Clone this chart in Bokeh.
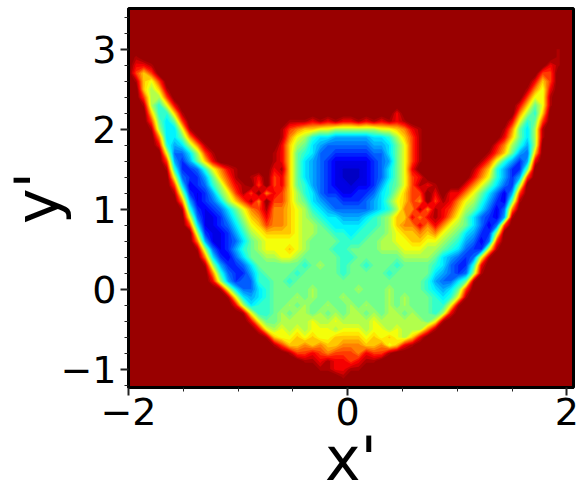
import numpy as np
from bokeh.plotting import figure
from bokeh.embed import file_html
from bokeh.resources import INLINE
from bokeh.models import FixedTicker

# density, hex digit per cell, 0 = empty, f = densest
x_start, x_step = -2.0, 0.07
y_top, y_step = 3.0, 0.1
density_rows = [
 "0000000000 0000000000 0000000000 0000000000 0000000000 000000100",
 "0100000000 0000000000 0000000000 0000000000 0000000000 000000100",
 "0221000000 0000000000 0000000000 0000000000 0000000000 000002100",
 "0353000000 0000000000 0000000000 0000000000 0000000000 000033000",
 "0156300000 0000000000 0000000000 0000000000 0000000000 000253000",
 "0057510000 0000000000 0000000000 0000000000 0000000000 001462000",
 "0037730000 0000000000 0000000000 0000000000 0000000000 003661000",
 "0017962000 0000000000 0000000000 0000000000 0000000000 025861000",
 "0005995100 0000000000 0000000000 0000020000 0000000000 047950000",
 "00038a8300 0000000000 0111212122 1212121000 0000000000 269830000",
 "00017aa610 0000000000 1345566777 7776654210 0000000001 48a710000",
 "00004aa841 0000000000 14679aabbb bbaa975310 0000000002 58a710000",
 "000029ba74 1000000000 2578abcccc ccbba86310 0000000024 79b700000",
 "000006cca7 3100000001 2589accddd ddcca86310 0000000135 8bc500000",
 "000003bdb8 5200000001 258abcdeee eedcb86310 0000001369 bdb200000",
 "0000019ddc 9642100002 158abcdeff fedca86200 000001359b dd8000000",
 "0000006cdd b853101203 258abcdeff fedca86320 000002469b db3000000",
 "0000003aed c974210303 2589bcdeef eedb986312 10002468ac d70000000",
 "00000017de db86313042 3579acddee ddca975330 2022468ace b30000000",
 "00000004be dca7531403 3578abccdd dcba865340 3124679bde 810000000",
 "000000019d edca864314 45679abccc ccba974414 123578acec 400000000",
 "000000006c eedb975424 456789aabb ba98755242 12468acdeb 100000000",
 "000000003a eedca86534 4567789aaa a998754424 24678acec3 000000000",
 "0000000007 deedb97655 556778899a 9988765545 4678abdd70 000000000",
 "0000000004 beedca8766 6667888899 9887766556 6789bcec30 000000000",
 "0000000001 7cedb98766 6567888998 8887776667 789acdd610 000000000",
 "0000000000 4adeca8877 6678888899 8888887777 8abcdc6100 000000000",
 "0000000000 17bddca888 8889878898 8988898888 9acdd92000 000000000",
 "0000000000 049cddb988 8898888898 8888988888 abcdc71000 000000000",
 "0000000000 027bdcc998 8988888888 8888888889 bcca810000 000000000",
 "0000000000 0016acca98 8888788888 7888788889 aba8300000 000000000",
 "0000000000 00016aba98 8878788878 8888787888 9a96100000 000000000",
 "0000000000 000027a998 8787887887 8788787888 9961000000 000000000",
 "0000000000 0000016998 7877878787 7878778788 9720000000 000000000",
 "0000000000 0000002688 7777677677 7767777778 6100000000 000000000",
 "0000000000 0000000267 6767666766 6766767774 1000000000 000000000",
 "0000000000 0000000015 6656566555 5656567520 0000000000 000000000",
 "0000000000 0000000001 3554545544 4554652100 0000000000 000000000",
 "0000000000 0000000000 0133234333 4233100000 0000000000 000000000",
 "0000000000 0000000000 0001121223 2110000000 0000000000 000000000",
 "0000000000 0000000000 0000011221 1000000000 0000000000 000000000",
 "0000000000 0000000000 0000000010 0000000000 0000000000 000000000",
 "0000000000 0000000000 0000000000 0000000000 0000000000 000000000",
]
x_ticks = [-2, 0, 2]
x_minor = [-1.5, -1, -0.5, 0.5, 1, 1.5]
y_ticks = [-1, 0, 1, 2, 3]
y_minor = [-1.2, -0.8, -0.6, -0.4, -0.2, 0.2, 0.4, 0.6, 0.8, 1.2, 1.4, 1.6, 1.8,
           2.2, 2.4, 2.6, 2.8, 3.2, 3.4]

rows = [r.replace(" ", "") for r in density_rows][::-1]
z = np.array([[int(c, 16) for c in r] for r in rows], dtype=float)
xs = x_start + x_step * np.arange(z.shape[1])
ys = y_top - y_step * np.arange(z.shape[0])[::-1]


def jet_r(t):
    # t = 0 -> dark red, t = 1 -> dark blue
    j = 1 - t
    r = np.clip(min(4 * j - 1.5, -4 * j + 4.5), 0, 1)
    g = np.clip(min(4 * j - 0.5, -4 * j + 3.5), 0, 1)
    b = np.clip(min(4 * j + 0.5, -4 * j + 2.5), 0, 1)
    if j > 0.88:
        r = 0.6 + (1 - j) / 0.12 * 0.4
    if j < 0.1:
        b = 0.6 + j / 0.1 * 0.4
    return "#%02x%02x%02x" % (int(r * 255), int(g * 255), int(b * 255))


p = figure(frame_width=445, frame_height=379, x_range=(-2.0, 2.06), y_range=(-1.23, 3.51),
           output_backend="svg", toolbar_location=None,
           min_border_left=100, min_border_right=8, min_border_top=8, min_border_bottom=100,
           background_fill_color="#990000", x_axis_label="x'", y_axis_label="y'")
p.styles = {"position": "absolute", "left": "-1px", "top": "0px"}
p.grid.visible = False

levels = np.linspace(0.8, 15.4, 31)
for k, lv in enumerate(levels):
    c = jet_r(((k + 0.5) / len(levels)) ** 0.88)
    p.contour(xs, ys, z, levels=[lv, 99], fill_color=c, line_color=None)

p.outline_line_color = "black"
p.outline_line_width = 3
p.outline_line_alpha = 1

p.xaxis.ticker = FixedTicker(ticks=x_ticks, minor_ticks=x_minor)
p.yaxis.ticker = FixedTicker(ticks=y_ticks, minor_ticks=y_minor)
for ax in (p.xaxis[0], p.yaxis[0]):
    ax.axis_line_width = 3
    ax.axis_line_color = "black"
    ax.major_tick_out = 8
    ax.major_tick_in = 0
    ax.minor_tick_out = 4
    ax.minor_tick_in = 0
    ax.major_tick_line_width = 2
    ax.minor_tick_line_width = 1
    ax.major_tick_line_color = "#222222"
    ax.minor_tick_line_color = "#222222"
    ax.major_label_text_font = "DejaVu Sans"
    ax.major_label_text_font_size = "38px"
    ax.major_label_text_color = "black"
    ax.axis_label_text_font = "DejaVu Sans"
    ax.axis_label_text_font_size = "60px"
    ax.axis_label_text_font_style = "normal"
    ax.axis_label_text_color = "black"
p.xaxis.major_label_standoff = 2
p.yaxis.major_label_standoff = 4
p.xaxis.axis_label_standoff = -4
p.yaxis.axis_label_standoff = -15

open("out.html", "w").write(file_html(p, INLINE))
